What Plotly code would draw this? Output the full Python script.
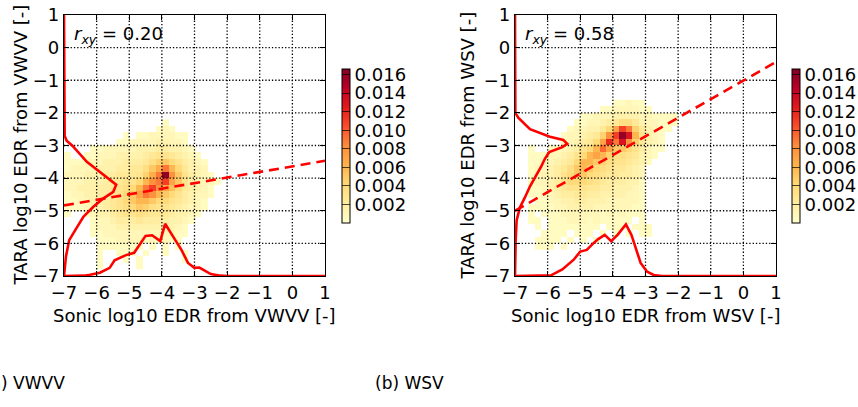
import plotly.graph_objects as go

W, H = 858, 407
FONT = "DejaVu Sans"

AX_RANGE = [-7, 1]
TICKS = [-7, -6, -5, -4, -3, -2, -1, 0, 1]
CB_TICKS = [0.002, 0.004, 0.006, 0.008, 0.010, 0.012, 0.014, 0.016]
CB_MAX = 0.0166
DENSITY_UNIT = 0.0005  # matrix entries are in units of 0.0005

# ---------------- (a) VWVV ----------------
vwvv_x = [-6.9, -6.7, -6.5, -6.3, -6.1, -5.9, -5.7, -5.5, -5.3, -5.1, -4.9, -4.7,
          -4.5, -4.3, -4.1, -3.9, -3.7, -3.5, -3.3, -3.1, -2.9, -2.7, -2.5, -2.3]
vwvv_y = [-2.3, -2.5, -2.7, -2.9, -3.1, -3.3, -3.5, -3.7, -3.9, -4.1, -4.3, -4.5,
          -4.7, -4.9, -5.1, -5.3, -5.5, -5.7, -5.9, -6.1, -6.3, -6.5, -6.7]
vwvv_density = [
    [0,0,0,0,0,0,0,0,0,0,0,0,0,0,0,1,0,0,0,0,0,0,0,0],
    [0,0,0,0,0,0,0,0,0,0,0,0,0,0,1,2,1,0,0,0,0,0,0,0],
    [0,0,0,0,0,0,0,0,0,1,0,1,1,2,2,2,2,1,1,0,0,0,0,0],
    [0,0,0,0,0,0,0,0,1,1,2,2,2,2,3,3,2,2,1,0,0,0,0,0],
    [0,0,0,0,1,1,2,2,2,2,2,3,3,3,4,4,3,3,2,1,0,0,0,0],
    [1,0,0,1,1,2,2,2,3,3,3,3,4,5,6,6,5,4,3,2,1,0,0,0],
    [1,1,1,2,2,2,3,3,3,4,4,4,5,7,9,10,8,6,4,3,2,1,0,0],
    [1,2,2,2,2,3,3,3,4,4,5,5,7,10,13,18,12,8,5,3,3,2,0,0],
    [2,2,2,3,3,3,4,4,5,5,5,6,9,13,18,32,16,10,6,4,3,2,1,0],
    [2,2,2,3,3,3,4,5,5,6,6,8,12,16,18,22,14,10,6,4,3,2,2,1],
    [2,2,3,3,3,4,4,5,6,7,8,12,18,22,16,14,11,8,5,4,3,2,1,0],
    [1,2,2,3,3,4,4,5,6,8,10,14,18,16,12,10,8,6,4,3,2,2,1,0],
    [1,1,2,2,3,3,4,5,6,8,10,12,12,10,8,8,6,5,4,3,2,1,0,0],
    [1,1,1,2,2,3,4,5,6,7,8,10,9,7,6,6,5,4,3,2,2,1,0,0],
    [1,0,0,1,2,3,3,4,5,6,6,7,6,5,5,5,4,3,3,2,1,0,0,0],
    [0,0,0,0,1,2,2,3,4,4,4,5,4,4,4,4,3,3,2,1,0,0,0,0],
    [0,0,0,0,1,2,2,2,3,3,3,3,3,3,3,3,3,2,1,0,0,0,0,0],
    [0,0,0,0,1,1,2,2,2,2,2,2,2,2,2,2,2,1,1,0,0,0,0,0],
    [0,0,0,0,0,1,1,1,2,2,2,2,1,2,1,2,1,1,0,0,0,0,0,0],
    [0,0,0,0,0,1,1,1,1,1,1,1,0,1,0,1,0,1,0,0,0,0,0,0],
    [0,0,0,0,0,1,0,0,1,1,1,0,1,0,0,1,0,0,1,0,0,0,0,0],
    [0,0,0,0,0,1,0,0,0,1,0,1,0,0,0,0,0,0,1,0,0,0,0,0],
    [0,0,0,0,0,1,0,0,0,0,0,1,0,0,0,0,0,0,0,0,0,0,0,0],
]
vwvv_margx_x = [-7.0, -6.4, -6.2, -5.9, -5.6, -5.45, -5.1, -4.85, -4.5, -4.3, -4.05,
                -3.9, -3.65, -3.4, -3.2, -3.0, -2.85, -2.5, -2.2, -2.0, 1.0]
vwvv_margx_h = [0, 0.01, 0.04, 0.1, 0.25, 0.48, 0.64, 0.71, 1.23, 1.25, 1.07,
                1.6, 1.2, 0.8, 0.4, 0.25, 0.26, 0.06, 0.01, 0, 0]
vwvv_margy_y = [1.0, -2.7, -2.85, -3.0, -3.5, -4.0, -4.2, -4.42, -4.62, -4.88,
                -5.19, -5.6, -5.9, -6.4, -6.9, -7.0]
vwvv_margy_w = [0, 0.02, 0.08, 0.25, 0.7, 1.33, 1.6, 1.51, 1.21, 0.9,
                0.59, 0.34, 0.16, 0.06, 0.01, 0]
vwvv_slope, vwvv_intercept = 0.171, -3.64
vwvv_r = 0.20

# ---------------- (b) WSV ----------------
wsv_x = [-6.5, -6.3, -6.1, -5.9, -5.7, -5.5, -5.3, -5.1, -4.9, -4.7, -4.5, -4.3,
         -4.1, -3.9, -3.7, -3.5, -3.3, -3.1, -2.9, -2.7, -2.5, -2.3, -2.1]
wsv_y = [-1.7, -1.9, -2.1, -2.3, -2.5, -2.7, -2.9, -3.1, -3.3, -3.5, -3.7, -3.9,
         -4.1, -4.3, -4.5, -4.7, -4.9, -5.1, -5.3, -5.5, -5.7, -5.9, -6.1]
wsv_density = [
    [0,0,0,0,0,0,0,0,0,0,0,0,0,1,1,2,1,1,0,0,0,0,0],
    [0,0,0,0,0,0,0,0,0,0,0,1,1,2,2,2,2,1,1,0,0,0,0],
    [0,0,0,0,0,0,0,0,1,1,2,2,2,3,3,3,3,2,2,1,1,1,1],
    [0,0,0,0,0,0,0,1,1,2,2,3,4,5,7,7,5,3,2,2,1,1,1],
    [0,0,0,0,0,0,1,2,2,3,3,5,8,14,22,18,9,5,3,2,1,1,0],
    [0,0,0,0,0,1,2,2,3,4,5,9,16,22,32,26,12,6,3,2,1,0,0],
    [0,0,0,0,0,2,2,3,4,5,8,14,24,18,26,16,9,5,3,2,1,0,0],
    [1,0,0,1,2,2,3,4,6,8,12,19,14,10,10,8,6,4,2,1,1,0,0],
    [1,1,1,2,2,3,4,6,8,12,14,12,9,7,7,6,5,3,2,1,0,0,0],
    [1,1,2,2,3,4,5,8,12,12,10,9,7,6,6,5,4,3,1,0,0,0,0],
    [1,2,2,3,4,5,7,10,12,10,8,7,6,5,5,4,3,2,0,0,0,0,0],
    [1,2,3,3,4,6,8,10,10,8,7,6,5,5,4,4,3,2,0,0,0,0,0],
    [1,2,2,3,4,6,8,8,8,7,6,5,4,4,4,3,3,1,0,0,0,0,0],
    [1,1,2,3,4,5,6,6,6,5,5,4,4,3,3,3,2,1,0,0,0,0,0],
    [1,1,2,2,3,4,4,5,5,4,4,3,3,3,3,2,2,1,0,0,0,0,0],
    [0,1,1,2,2,3,3,4,4,3,3,3,2,2,2,2,2,1,0,0,0,0,0],
    [1,1,1,1,2,2,3,3,3,3,2,2,2,2,2,2,1,1,0,0,0,0,0],
    [1,0,1,1,1,2,2,2,2,2,2,1,2,1,2,1,1,1,0,0,0,0,0],
    [1,1,0,1,1,1,2,2,2,1,2,1,1,1,1,1,0,1,0,0,0,0,0],
    [0,1,0,1,1,1,1,1,1,1,1,0,1,1,1,0,1,1,1,0,0,0,0],
    [0,0,1,1,1,1,0,1,1,1,0,1,0,1,0,1,0,1,1,0,0,0,0],
    [0,1,1,1,1,0,1,0,1,0,1,0,0,0,0,0,0,0,0,0,0,0,0],
    [0,1,1,1,0,1,0,0,0,0,0,0,0,0,0,0,0,0,0,0,0,0,0],
]
wsv_margx_x = [-7.0, -5.9, -5.55, -5.2, -5.0, -4.8, -4.6, -4.45, -4.25, -4.05,
               -3.85, -3.6, -3.43, -3.3, -3.15, -2.95, -2.75, -2.5, 1.0]
wsv_margx_h = [0, 0.02, 0.2, 0.5, 0.75, 0.8, 1.0, 1.13, 1.26, 1.07,
               1.27, 1.58, 1.26, 0.85, 0.4, 0.13, 0.03, 0, 0]
wsv_margy_y = [1.0, -2.0, -2.15, -2.5, -2.73, -2.83, -2.95, -3.05, -3.2, -3.4,
               -3.65, -3.95, -4.25, -4.6, -4.9, -5.3, -5.9, -7.0]
wsv_margy_w = [0, 0.01, 0.1, 0.46, 1.07, 1.48, 1.6, 1.45, 1.05, 0.92,
               0.8, 0.62, 0.46, 0.3, 0.15, 0.05, 0.02, 0]
wsv_slope, wsv_intercept = 0.57, -1.01
wsv_r = 0.58

YLORRD = [[0.0, "#ffffcc"], [0.125, "#ffeda0"], [0.25, "#fed976"], [0.375, "#feb24c"],
          [0.5, "#fd8d3c"], [0.625, "#fc4e2a"], [0.75, "#e31a1c"], [0.875, "#bd0026"],
          [1.0, "#800026"]]

panels = [
    dict(name="VWVV", xs=vwvv_x, ys=vwvv_y, dens=vwvv_density,
         mx=vwvv_margx_x, mh=vwvv_margx_h, my=vwvv_margy_y, mw=vwvv_margy_w,
         slope=vwvv_slope, icpt=vwvv_intercept, r=vwvv_r,
         left=64, cb_left=342, ytitle_x=20, caption="(a) VWVV", cap_left=-18),
    dict(name="WSV", xs=wsv_x, ys=wsv_y, dens=wsv_density,
         mx=wsv_margx_x, mh=wsv_margx_h, my=wsv_margy_y, mw=wsv_margy_w,
         slope=wsv_slope, icpt=wsv_intercept, r=wsv_r,
         left=515, cb_left=792, ytitle_x=467, caption="(b) WSV", cap_left=373),
]

PLOT_W = 261
TOP, BOTTOM = 15, 276
CB_TOP, CB_BOTTOM = 69, 223

fig = go.Figure()
layout = dict(
    width=W, height=H, margin=dict(l=0, r=0, t=0, b=0, autoexpand=False),
    paper_bgcolor="white", plot_bgcolor="white",
    font=dict(family=FONT, size=18, color="black"),
    showlegend=False, annotations=[],
)

for i, p in enumerate(panels):
    sfx = "" if i == 0 else str(i + 1)
    xa, ya = "x" + sfx, "y" + sfx
    # 2D histogram (empty bins masked -> white)
    z = [[(v * DENSITY_UNIT if v > 0 else None) for v in row] for row in p["dens"]][::-1]
    fig.add_trace(go.Heatmap(
        x=p["xs"], y=p["ys"][::-1], z=z, colorscale=YLORRD, zmin=0, zmax=CB_MAX,
        xaxis=xa, yaxis=ya, hoverinfo="skip", xgap=0, ygap=0,
        colorbar=dict(
            x=p["cb_left"] / W, xanchor="left", xpad=0, ypad=0,
            y=1 - (CB_TOP + CB_BOTTOM) / 2 / H, yanchor="middle",
            len=CB_BOTTOM - CB_TOP, lenmode="pixels", thickness=8,
            outlinewidth=1, outlinecolor="black",
            tickvals=CB_TICKS, ticktext=["%.3f" % t for t in CB_TICKS],
            ticks="inside", ticklen=8, tickcolor="rgba(0,0,0,0.7)", tickwidth=1,
            tickfont=dict(family=FONT, size=18, color="black"),
        ),
    ))
    # dotted grid above the histogram
    inner = TICKS[1:-1]
    gx, gy = [], []
    for t in inner:
        gx += [t, t, None]
        gy += [AX_RANGE[0], AX_RANGE[1], None]
        gx += [AX_RANGE[0], AX_RANGE[1], None]
        gy += [t, t, None]
    fig.add_trace(go.Scatter(x=gx, y=gy, mode="lines", xaxis=xa, yaxis=ya,
                             line=dict(color="black", width=1.3, dash="1.3px,2px"),
                             hoverinfo="skip"))
    # regression line
    fig.add_trace(go.Scatter(
        x=AX_RANGE, y=[p["icpt"] + p["slope"] * v for v in AX_RANGE],
        mode="lines", xaxis=xa, yaxis=ya, hoverinfo="skip",
        line=dict(color="#ff0000", width=2.6, dash="10px,6px")))
    # marginal distributions
    fig.add_trace(go.Scatter(
        x=p["mx"], y=[AX_RANGE[0] + h for h in p["mh"]], mode="lines",
        xaxis=xa, yaxis=ya, hoverinfo="skip", cliponaxis=False,
        line=dict(color="#ff0000", width=2.6)))
    fig.add_trace(go.Scatter(
        x=[AX_RANGE[0] + w for w in p["mw"]], y=p["my"], mode="lines",
        xaxis=xa, yaxis=ya, hoverinfo="skip", cliponaxis=False,
        line=dict(color="#ff0000", width=2.6)))

    axis_common = dict(
        range=AX_RANGE, tickvals=TICKS, showgrid=False, zeroline=False,
        showline=True, linecolor="black", linewidth=1.2, mirror="ticks",
        ticks="inside", ticklen=5, tickcolor="black", tickwidth=1,
        tickfont=dict(family=FONT, size=18, color="black"),
    )
    layout["xaxis" + sfx] = dict(axis_common, anchor=ya,
                                 domain=[p["left"] / W, (p["left"] + PLOT_W) / W])
    layout["yaxis" + sfx] = dict(axis_common, anchor=xa,
                                 domain=[1 - BOTTOM / H, 1 - TOP / H])

    cx = (p["left"] + PLOT_W / 2) / W
    layout["annotations"] += [
        dict(text="Sonic log10 EDR from %s [-]" % p["name"], xref="paper", yref="paper",
             x=cx, y=1 - 315 / H, xanchor="center", yanchor="middle", showarrow=False,
             font=dict(family=FONT, size=18)),
        dict(text="TARA log10 EDR from %s [-]" % p["name"], xref="paper", yref="paper",
             x=p["ytitle_x"] / W, y=1 - (TOP + BOTTOM) / 2 / H, textangle=-90,
             xanchor="center", yanchor="middle", showarrow=False,
             font=dict(family=FONT, size=18)),
        dict(text="<i>r</i><sub><i>xy</i></sub> = %.2f" % p["r"], xref=xa, yref=ya,
             x=-6.75, y=0.4, xanchor="left", yanchor="middle", showarrow=False,
             font=dict(family=FONT, size=18)),
        dict(text=p["caption"], xref="paper", yref="paper",
             x=p["cap_left"] / W, y=1 - 383 / H, xanchor="left", yanchor="middle",
             showarrow=False, font=dict(family=FONT, size=17)),
    ]

fig.update_layout(**layout)
fig.write_html("out.html")
